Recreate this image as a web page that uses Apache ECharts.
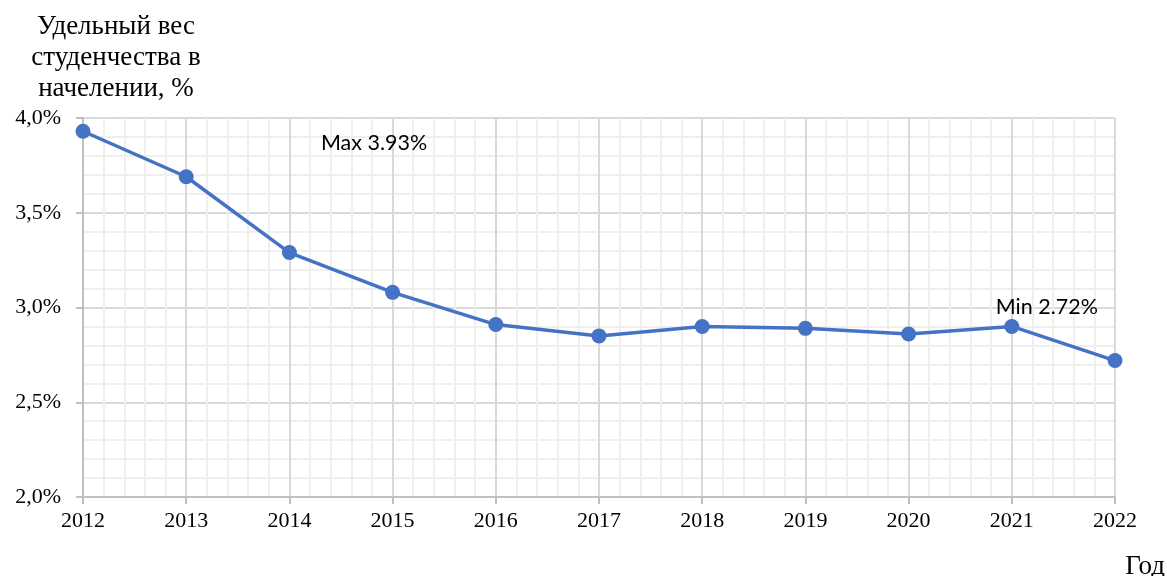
<!DOCTYPE html>
<html>
<head>
<meta charset="utf-8">
<script src="https://cdn.jsdelivr.net/npm/echarts@6/dist/echarts.min.js"></script>
<style>
html,body{margin:0;padding:0;background:#fff;}
#chart{width:1167px;height:576px;}
</style>
</head>
<body>
<div id="chart"></div>
<script>
const years = [2012, 2013, 2014, 2015, 2016, 2017, 2018, 2019, 2020, 2021, 2022];
const shares = [3.93, 3.69, 3.29, 3.08, 2.91, 2.85, 2.90, 2.89, 2.86, 2.90, 2.72];
const yTitle = 'Удельный вес\nстуденчества в\nначелении, %';
const xTitle = 'Год';
const maxLabel = 'Max 3.93%';
const minLabel = 'Min 2.72%';

const chart = echarts.init(document.getElementById('chart'), null, {renderer: 'canvas'});
const serif = 'Liberation Serif';
const gridMajor = '#d9d9d9';
const gridMinor = '#efefef';

chart.setOption({
  animation: false,
  backgroundColor: '#fff',
  title: [
    {text: yTitle, left: 116, top: 11, textAlign: 'center', padding: 0,
     textStyle: {fontFamily: serif, fontSize: 27, fontWeight: 'normal', color: '#000', lineHeight: 31}},
    {text: xTitle, right: 2, top: 553, padding: 0,
     textStyle: {fontFamily: serif, fontSize: 27, fontWeight: 'normal', color: '#000'}}
  ],
  grid: {left: 83, right: 52, top: 118, bottom: 79, containLabel: false},
  xAxis: {
    type: 'value', min: 2012, max: 2022, interval: 1,
    axisLine: {show: true, lineStyle: {color: '#bfbfbf', width: 2}},
    axisTick: {show: true, length: 7, lineStyle: {color: '#bfbfbf', width: 2}},
    axisLabel: {fontFamily: serif, fontSize: 22, color: '#000', margin: 13,
      formatter: v => String(v)},
    splitLine: {show: true, lineStyle: {color: gridMajor, width: 2}},
    minorTick: {show: false, splitNumber: 5},
    minorSplitLine: {show: true, lineStyle: {color: gridMinor, width: 2}}
  },
  yAxis: {
    type: 'value', min: 2, max: 4, interval: 0.5,
    axisLine: {show: true, lineStyle: {color: '#bfbfbf', width: 2}},
    axisTick: {show: true, length: 7, lineStyle: {color: '#bfbfbf', width: 2}},
    axisLabel: {fontFamily: serif, fontSize: 22, color: '#000', margin: 22,
      formatter: v => v.toFixed(1).replace('.', ',') + '%'},
    splitLine: {show: true, lineStyle: {color: gridMajor, width: 2}},
    minorTick: {show: false, splitNumber: 5},
    minorSplitLine: {show: true, lineStyle: {color: gridMinor, width: 2}}
  },
  series: [{
    type: 'line',
    data: years.map((y, i) => [y, shares[i]]),
    lineStyle: {color: '#4472C4', width: 3.5},
    itemStyle: {color: '#4472C4'},
    symbol: 'circle',
    symbolSize: 15,
    z: 5,
    markPoint: {
      symbol: 'circle',
      symbolSize: 2,
      itemStyle: {color: 'rgba(0,0,0,0)'},
      label: {show: true, position: 'inside', fontFamily: 'Lato', fontSize: 21.5, color: '#000'},
      data: [
        {coord: [2014.82, 3.87], label: {formatter: maxLabel}},
        {coord: [2021.34, 3.0], label: {formatter: minLabel}}
      ]
    }
  }]
});
</script>
</body>
</html>
